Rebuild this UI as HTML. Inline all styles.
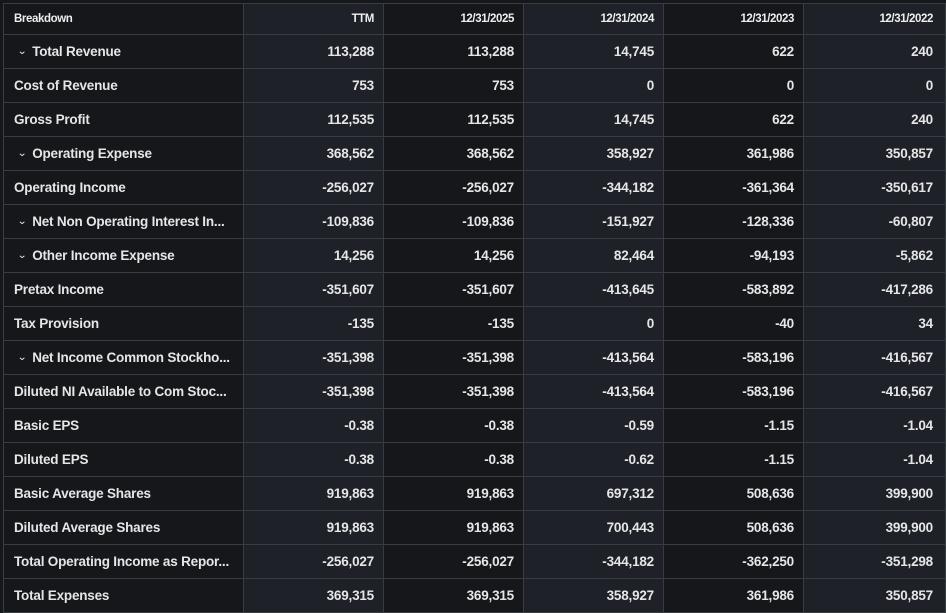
<!DOCTYPE html><html><head><style>
body{margin:0;background:#15171b;width:946px;height:613px;overflow:hidden;font-family:"Liberation Sans",sans-serif;}
table{position:absolute;left:3px;top:3px;border-collapse:collapse;table-layout:fixed;}
td,th{border:1px solid #383d42;height:33px;padding:0 9px 0 10px;color:#e6e6e6;font-size:13.5px;font-weight:bold;text-align:right;white-space:nowrap;overflow:hidden;letter-spacing:-0.2px}
th{height:30px;font-size:11.5px;color:#eee;letter-spacing:-0.4px}
td:first-child,th:first-child{text-align:left}
td:last-child,th:last-child{padding-right:12px}
td:nth-child(odd),th:nth-child(odd){background:#15171b}
td:nth-child(even),th:nth-child(even){background:#1e2128}
.c{font-size:10px;display:inline-block;transform:scaleX(1.2);margin:0 6px 0 4px;font-weight:normal;position:relative;top:-2px}
</style></head><body>
<table>
<colgroup><col style="width:240px"><col style="width:140px"><col style="width:140px"><col style="width:140px"><col style="width:140px"><col style="width:142px"></colgroup>
<tr><th>Breakdown</th><th>TTM</th><th>12/31/2025</th><th>12/31/2024</th><th>12/31/2023</th><th>12/31/2022</th></tr>
<tr><td><span class="c">⌄</span>Total Revenue</td><td>113,288</td><td>113,288</td><td>14,745</td><td>622</td><td>240</td></tr>
<tr><td>Cost of Revenue</td><td>753</td><td>753</td><td>0</td><td>0</td><td>0</td></tr>
<tr><td>Gross Profit</td><td>112,535</td><td>112,535</td><td>14,745</td><td>622</td><td>240</td></tr>
<tr><td><span class="c">⌄</span>Operating Expense</td><td>368,562</td><td>368,562</td><td>358,927</td><td>361,986</td><td>350,857</td></tr>
<tr><td>Operating Income</td><td>-256,027</td><td>-256,027</td><td>-344,182</td><td>-361,364</td><td>-350,617</td></tr>
<tr><td><span class="c">⌄</span>Net Non Operating Interest In...</td><td>-109,836</td><td>-109,836</td><td>-151,927</td><td>-128,336</td><td>-60,807</td></tr>
<tr><td><span class="c">⌄</span>Other Income Expense</td><td>14,256</td><td>14,256</td><td>82,464</td><td>-94,193</td><td>-5,862</td></tr>
<tr><td>Pretax Income</td><td>-351,607</td><td>-351,607</td><td>-413,645</td><td>-583,892</td><td>-417,286</td></tr>
<tr><td>Tax Provision</td><td>-135</td><td>-135</td><td>0</td><td>-40</td><td>34</td></tr>
<tr><td><span class="c">⌄</span>Net Income Common Stockho...</td><td>-351,398</td><td>-351,398</td><td>-413,564</td><td>-583,196</td><td>-416,567</td></tr>
<tr><td>Diluted NI Available to Com Stoc...</td><td>-351,398</td><td>-351,398</td><td>-413,564</td><td>-583,196</td><td>-416,567</td></tr>
<tr><td>Basic EPS</td><td>-0.38</td><td>-0.38</td><td>-0.59</td><td>-1.15</td><td>-1.04</td></tr>
<tr><td>Diluted EPS</td><td>-0.38</td><td>-0.38</td><td>-0.62</td><td>-1.15</td><td>-1.04</td></tr>
<tr><td>Basic Average Shares</td><td>919,863</td><td>919,863</td><td>697,312</td><td>508,636</td><td>399,900</td></tr>
<tr><td>Diluted Average Shares</td><td>919,863</td><td>919,863</td><td>700,443</td><td>508,636</td><td>399,900</td></tr>
<tr><td>Total Operating Income as Repor...</td><td>-256,027</td><td>-256,027</td><td>-344,182</td><td>-362,250</td><td>-351,298</td></tr>
<tr><td>Total Expenses</td><td>369,315</td><td>369,315</td><td>358,927</td><td>361,986</td><td>350,857</td></tr>
</table>
</body></html>
